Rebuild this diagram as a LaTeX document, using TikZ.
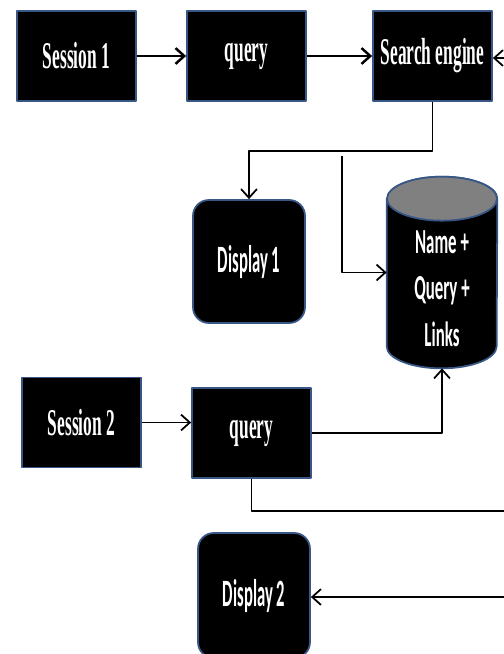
\documentclass[tikz,border=0pt]{standalone}
\usepackage{fontspec}
\setmainfont{Liberation Serif}
\newfontfamily\calfont{Carlito}
\usetikzlibrary{arrows.meta}
\newcommand{\squeeze}[2][0.46]{\scalebox{#1}[1]{#2}}
\definecolor{boxline}{RGB}{56,87,135}
\begin{document}
\begin{tikzpicture}[x=0.02cm,y=-0.02cm,line join=round,>={Straight Barb[length=5pt,width=9pt]},
  box/.style={draw=boxline,line width=1pt,fill=black,text=white,minimum width=2.38cm,minimum height=1.8cm,inner sep=0pt,font=\fontsize{21.5}{24}\selectfont\bfseries},
  disp/.style={draw=boxline,line width=1pt,fill=black,text=white,rounded corners=9pt,minimum width=2.24cm,minimum height=2.46cm,inner sep=0pt,font=\fontsize{22}{24}\selectfont\calfont\bfseries},
  dbtext/.style={text=white,align=center,inner sep=0pt,font=\fontsize{20}{26.6}\selectfont\calfont\bfseries},
  link/.style={line width=1pt},
  thick link/.style={line width=1.4pt}]
\useasboundingbox (0,0) rectangle (504,654);
\clip (0,0) rectangle (504,654);
\node[box] (s1) at (76.5,56) {\squeeze{Session 1}};
\node[box] (q1) at (246.5,56) {\squeeze{query}};
\node[box] (se) at (432.5,56) {\squeeze{Search engine}};
\node[disp] (d1) at (249,261.5) {\squeeze[0.43]{Display 1}};
\node[minimum width=2.2cm,minimum height=3.82cm,inner sep=0pt] (db) at (442,272.5) {};
\draw[boxline,line width=1pt,fill=black] ([yshift=-0.44cm]db.north west) -- ([yshift=0.44cm]db.south west)
  arc[start angle=180,end angle=360,x radius=1.1cm,y radius=0.44cm] -- ([yshift=-0.44cm]db.north east)
  arc[start angle=0,end angle=180,x radius=1.1cm,y radius=0.44cm] -- cycle;
\draw[boxline,line width=1pt,fill=gray] ([yshift=-0.44cm]db.north) ellipse[x radius=1.1cm,y radius=0.44cm];
\node[dbtext] (dbt) at ([yshift=-0.32cm]db.center) {\squeeze[0.48]{Name +}\\\squeeze[0.48]{Query +}\\\squeeze[0.48]{Links}};
\node[box] (s2) at (81.5,422.5) {\squeeze{Session 2}};
\node[box] (q2) at (251.5,433) {\squeeze{query}};
\node[disp,minimum height=2.5cm] (d2) at (254,595.5) {\squeeze[0.43]{Display 2}};
\coordinate (inR) at (504,58);
\coordinate (tap) at (342,156);
\coordinate (outR) at (504,511);
\coordinate (backR) at (504,597);
\draw[->,thick link] (s1) -- (q1);
\draw[->,thick link] (q1) -- (se);
\draw[->,link] (inR) -- (inR -| se.east);
\draw[->,link] (se.south) -- ++(0,49) -| (d1.north);
\draw[->,link] (tap) |- (db.west);
\draw[->,link] (s2.east) -- (s2.east -| q2.west);
\draw[->,link] (q2.east) -| (db.south);
\draw[link] (q2.south) |- (outR);
\draw[->,link] (backR) -- (backR -| d2.east);
\end{tikzpicture}
\end{document}
